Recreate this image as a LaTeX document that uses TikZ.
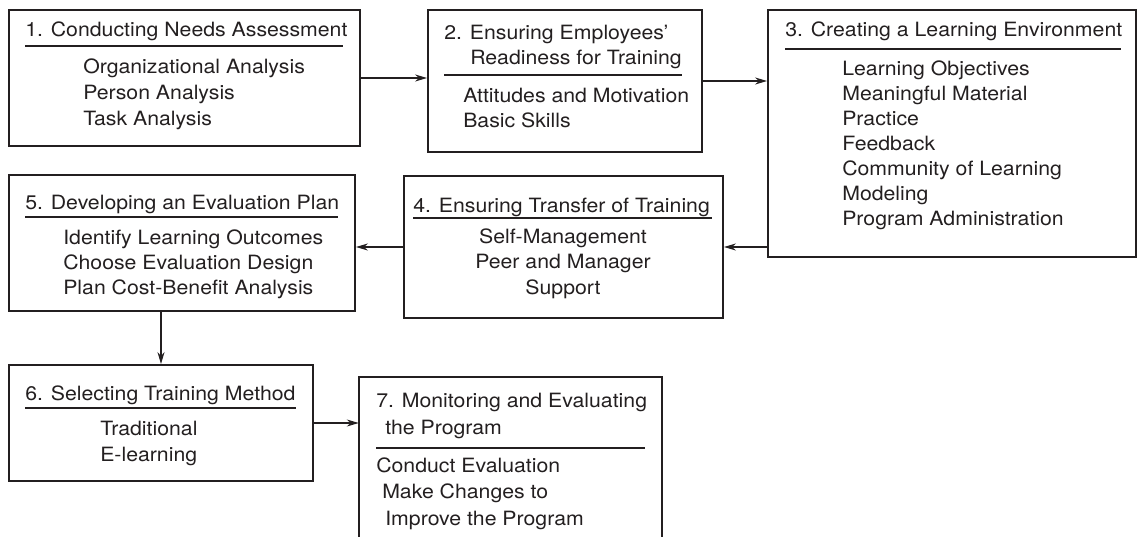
\documentclass[tikz,border=0pt]{standalone}
\usepackage{fontspec}
\setmainfont{TeX Gyre Heros}[FakeStretch=1.08]
\usetikzlibrary{arrows.meta,positioning,fit}
\definecolor{ink}{RGB}{35,31,32}
\newcommand\stagefont{\fontsize{14}{18}\selectfont}

\begin{document}
\begin{tikzpicture}[x=0.025cm,y=-0.025cm,>={Stealth[length=8.5pt,width=5pt]},
    stagebox/.style={draw=ink,line width=1.4pt,inner sep=0pt},
    openbox/.style={inner sep=0pt},
    boxline/.style={draw=ink,line width=1.4pt},
    stagetext/.style={anchor=base west,inner sep=0pt,font=\stagefont,text=ink},
    midtext/.style={anchor=base,inner sep=0pt,font=\stagefont,text=ink},
    titlerule/.style={draw=ink,line width=0.75pt},
    flow/.style={->,draw=ink,line width=0.75pt}]
    \useasboundingbox (0,0) rectangle (1138,537);

    % boxes
    \node[stagebox,fit={(9,10) (360,146)}] (b1) {};
    \node[stagebox,fit={(428,10) (702,152)}] (b2) {};
    \node[stagebox,fit={(768,10) (1136,257)}] (b3) {};
    \node[stagebox,fit={(404,176) (723,318)}] (b4) {};
    \node[stagebox,fit={(9,175) (355,311)}] (b5) {};
    \node[stagebox,fit={(9,365) (313,481)}] (b6) {};
    \node[openbox,fit={(359,377) (662,545)}] (b7) {};
    \draw[boxline] (b7.south west) -- (b7.north west) -- (b7.north east) -- (b7.south east);

    % 1
    \node[stagetext] (t1) at (25,37) {1. Conducting Needs Assessment};
    \draw[titlerule] (25,46) -- (343,46);
    \foreach \txt [count=\i] in {Organizational Analysis,Person Analysis,Task Analysis}
        \node[stagetext] (i1\i) at (83,48+26*\i) {\txt};

    % 2
    \node[stagetext] (t2a) at (444,40) {2. Ensuring Employees’};
    \node[stagetext] (t2b) at (470,65) {Readiness for Training};
    \draw[titlerule] (444,75) -- (682,75);
    \node[stagetext] (i21) at (463,103) {Attitudes and Motivation};
    \node[stagetext] (i22) at (463,128) {Basic Skills};

    % 3
    \node[stagetext] (t3) at (785,37) {3. Creating a Learning Environment};
    \draw[titlerule] (785,49) -- (1121,49);
    \foreach \txt [count=\i] in {Learning Objectives,Meaningful Material,Practice,Feedback,
        Community of Learning,Modeling,Program Administration}
        \node[stagetext] (i3\i) at (842,51+25*\i) {\txt};

    % 4
    \node[stagetext] (t4) at (413,213) {4. Ensuring Transfer of Training};
    \draw[titlerule] (413,218) -- (712,218);
    \node[midtext] (i41) at (563,244) {Self-Management};
    \node[midtext] (i42) at (563,269) {Peer and Manager};
    \node[midtext] (i43) at (563,295) {Support};

    % 5
    \node[stagetext] (t5) at (25,210) {5. Developing an Evaluation Plan};
    \draw[titlerule] (25,217) -- (338,217);
    \foreach \txt [count=\i] in {Identify Learning Outcomes,Choose Evaluation Design,Plan Cost-Benefit Analysis}
        \node[stagetext] (i5\i) at (63,220+25*\i) {\txt};

    % 6
    \node[stagetext] (t6) at (25,400) {6. Selecting Training Method};
    \draw[titlerule] (25,408) -- (296,408);
    \node[stagetext] (i61) at (100,435) {Traditional};
    \node[stagetext] (i62) at (100,461) {E-learning};

    % 7
    \node[stagetext] (t7a) at (376,407) {7. Monitoring and Evaluating};
    \node[stagetext] (t7b) at (385,434) {the Program};
    \draw[titlerule] (376,448) -- (645,448);
    \node[stagetext] (i71) at (376,472) {Conduct Evaluation};
    \node[stagetext] (i72) at (382,498) {Make Changes to};
    \node[stagetext] (i73) at (385,525) {Improve the Program};

    % connectors
    \draw[flow] (b1.east) -- (b1.east -| b2.west);
    \draw[flow] (b2.east) -- (b2.east -| b3.west);
    \draw[flow] (b4.east -| b3.west) -- (b4.east);
    \draw[flow] (b4.west) -- (b4.west -| b5.east);
    \draw[flow] (b6.north |- b5.south) -- (b6.north);
    \draw[flow] (b6.east) -- (b6.east -| b7.west);
\end{tikzpicture}
\end{document}
